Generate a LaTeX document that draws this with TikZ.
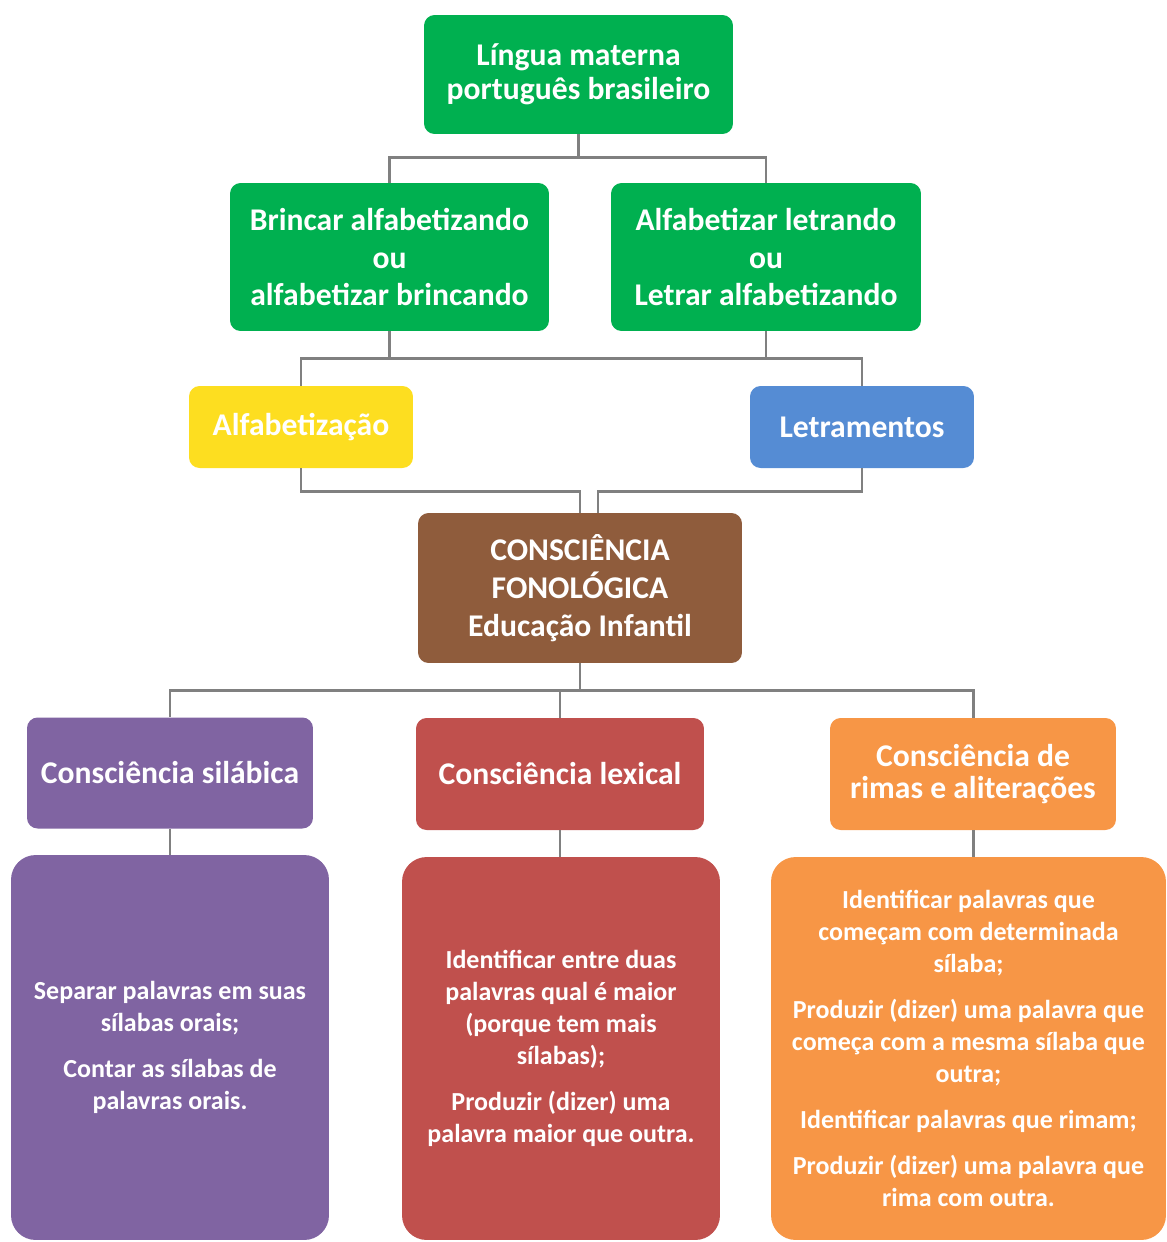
\documentclass[tikz,border=0pt]{standalone}
\usepackage{fontspec}
\setmainfont{Carlito}
\usetikzlibrary{positioning,calc}
\definecolor{mapgreen}{RGB}{0,176,80}
\definecolor{mapyellow}{RGB}{253,222,32}
\definecolor{mapblue}{RGB}{85,140,212}
\definecolor{mapbrown}{RGB}{143,92,60}
\definecolor{mappurple}{RGB}{128,100,162}
\definecolor{mapred}{RGB}{192,80,77}
\definecolor{maporange}{RGB}{247,150,70}
\definecolor{linkgray}{RGB}{128,128,128}

\begin{document}
\begin{tikzpicture}[x=0.02cm, y=-0.02cm,
  box/.style={rounded corners=6pt, text=white, align=center, inner sep=0pt,
    font=\bfseries\fontsize{18}{21.5}\selectfont},
  textbox/.style={rounded corners=14pt, text=white, align=center, inner sep=0pt,
    font=\bfseries\fontsize{14.8}{18.2}\selectfont},
  link/.style={draw=linkgray, line width=1.7pt}
]
  \useasboundingbox (0,0) rectangle (1167,1242);

  % top levels
  \node[box, fill=mapgreen, minimum width=6.18cm, minimum height=2.38cm,
    font=\bfseries\fontsize{18}{19.3}\selectfont] (lingua) at (578.5,74.5)
    {Língua materna\\português brasileiro};
  \node[box, fill=mapgreen, minimum width=6.38cm, minimum height=2.96cm] (brincar) at (389.5,257)
    {Brincar alfabetizando\\ou\\alfabetizar brincando};
  \node[box, fill=mapgreen, minimum width=6.2cm, minimum height=2.96cm] (letrar) at (766,257)
    {Alfabetizar letrando\\ou\\Letrar alfabetizando};
  \node[box, fill=mapyellow, minimum width=4.48cm, minimum height=1.64cm] (alfa) at (301,427)
    {Alfabetização};
  \node[box, fill=mapblue, minimum width=4.48cm, minimum height=1.64cm] (letramentos) at (862,427)
    {Letramentos};
  \node[box, fill=mapbrown, minimum width=6.48cm, minimum height=3cm] (consc) at (580,588)
    {CONSCIÊNCIA\\FONOLÓGICA\\Educação Infantil};

  % three branches
  \node[box, fill=mappurple, minimum width=5.72cm, minimum height=2.22cm] (silabica) at (170,773)
    {Consciência silábica};
  \node[box, fill=mapred, minimum width=5.76cm, minimum height=2.24cm] (lexical) at (560,774)
    {Consciência lexical};
  \node[box, fill=maporange, minimum width=5.72cm, minimum height=2.24cm,
    font=\bfseries\fontsize{18}{18.7}\selectfont] (rimas) at (973,774)
    {Consciência de\\rimas e aliterações};

  \node[textbox, fill=mappurple, minimum width=6.36cm, minimum height=7.7cm] (silabicatxt) at (170,1047.5)
    {Separar palavras em suas\\sílabas orais;\\[8pt]Contar as sílabas de\\palavras orais.};
  \node[textbox, fill=mapred, minimum width=6.36cm, minimum height=7.66cm] (lexicaltxt) at (561,1048.5)
    {Identificar entre duas\\palavras qual é maior\\(porque tem mais\\sílabas);\\[8pt]Produzir (dizer) uma\\palavra maior que outra.};
  \node[textbox, fill=maporange, minimum width=7.9cm, minimum height=7.66cm] (rimastxt) at (968.5,1048.5)
    {Identificar palavras que\\começam com determinada\\sílaba;\\[8pt]Produzir (dizer) uma palavra que\\começa com a mesma sílaba que\\outra;\\[8pt]Identificar palavras que rimam;\\[8pt]Produzir (dizer) uma palavra que\\rima com outra.};

  % connectors
  \draw[link] (lingua.south) -- ++(0,23) -| (brincar.north);
  \draw[link] (lingua.south) -- ++(0,23) -| (letrar.north);
  \draw[link] (brincar.south) -- ++(0,27) -| (alfa.north);
  \draw[link] (brincar.south) -- ++(0,27) -| (letramentos.north);
  \draw[link] (letrar.south) -- ++(0,27) -| (letramentos.north);
  \draw[link] (alfa.south) -- ++(0,23) -| (consc.north);
  \draw[link] (letramentos.south) -- ++(0,23) -| ($(consc.north)+(18,0)$);
  \draw[link] (consc.south) -- ++(0,27) -| (silabica.north);
  \draw[link] (consc.south) -- ++(0,27) -| (lexical.north);
  \draw[link] (consc.south) -- ++(0,27) -| (rimas.north);
  \draw[link] (silabica.south) -- (silabica.south |- silabicatxt.north);
  \draw[link] (lexical.south) -- (lexical.south |- lexicaltxt.north);
  \draw[link] (rimas.south) -- (rimas.south |- rimastxt.north);
\end{tikzpicture}
\end{document}
